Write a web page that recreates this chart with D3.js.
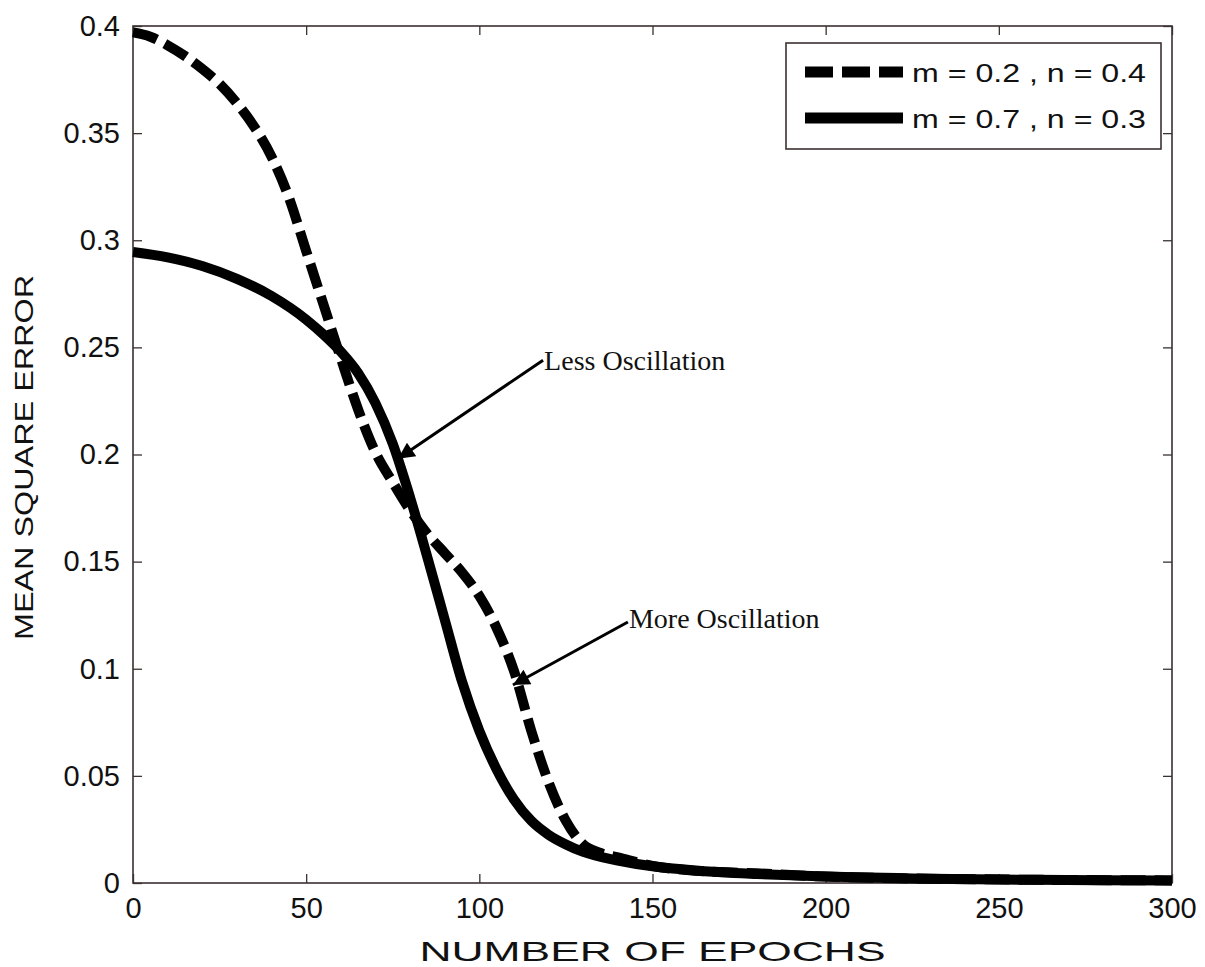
<!DOCTYPE html>
<html>
<head>
<meta charset="utf-8">
<script src="https://cdn.jsdelivr.net/npm/d3@7"></script>
<style>
  html, body { margin: 0; padding: 0; background: #fff; }
  svg { display: block; }
</style>
</head>
<body>
<svg id="chart" width="1205" height="967"></svg>
<script>
// ---- data ----
const epochsA = [0,5,10,15,20,25,30,35,40,45,50,55,60,65,70,75,80,85,90,95,100,105,110,115,120,125,130,135,140,150,160,180,200,230,300];
const mseA    = [0.397,0.395,0.391,0.386,0.380,0.373,0.364,0.353,0.339,0.320,0.295,0.270,0.245,0.221,0.201,0.187,0.174,0.163,0.154,0.145,0.134,0.119,0.099,0.071,0.047,0.029,0.018,0.014,0.012,0.008,0.006,0.0045,0.003,0.002,0.0012];
const epochsB = [0,10,20,30,40,50,55,60,65,70,75,80,85,90,95,100,105,110,115,120,125,130,140,150,160,170,180,200,230,260,300];
const mseB    = [0.2945,0.292,0.288,0.282,0.274,0.263,0.256,0.248,0.238,0.224,0.205,0.180,0.152,0.123,0.094,0.071,0.053,0.039,0.029,0.0225,0.018,0.0145,0.0105,0.0078,0.0062,0.005,0.0042,0.003,0.002,0.0015,0.0012];
const seriesLabels = ["m = 0.2 , n = 0.4", "m = 0.7 , n = 0.3"];
const xTicks = [0,50,100,150,200,250,300];
const yTicks = [0,0.05,0.1,0.15,0.2,0.25,0.3,0.35,0.4];
const yTickLabels = ["0","0.05","0.1","0.15","0.2","0.25","0.3","0.35","0.4"];
const xTitle = "NUMBER OF EPOCHS";
const yTitle = "MEAN SQUARE ERROR";
const notes = [
  {text: "Less Oscillation", tx: 118.7, ty: 0.2394, fx: 118.4, fy: 0.244, ax: 76.5, ay: 0.198},
  {text: "More Oscillation", tx: 143.2, ty: 0.119, fx: 142.9, fy: 0.1218, ax: 109.7, ay: 0.0924}
];

// ---- layout ----
const L = 133, R = 1172, T = 26, B = 883;
const svg = d3.select("#chart");
const x = d3.scaleLinear().domain([0,300]).range([L,R]);
const y = d3.scaleLinear().domain([0,0.4]).range([B,T]);
const frameColor = "#3b3131";
const sans = "Liberation Sans, Arial, sans-serif";

// frame
svg.append("rect").attr("x",L).attr("y",T).attr("width",R-L).attr("height",B-T)
  .attr("fill","#fff").attr("stroke",frameColor).attr("stroke-width",1.6);

// axes (ticks inward)
const tickLen = 9;
const gx = svg.append("g").attr("transform",`translate(0,${B})`)
  .call(d3.axisBottom(x).tickValues(xTicks).tickSizeInner(-tickLen).tickSizeOuter(0).tickPadding(14));
const gxt = svg.append("g").attr("transform",`translate(0,${T})`)
  .call(d3.axisTop(x).tickValues(xTicks).tickSizeInner(-tickLen).tickSizeOuter(0).tickFormat(""));
const gy = svg.append("g").attr("transform",`translate(${L},0)`)
  .call(d3.axisLeft(y).tickValues(yTicks).tickSizeInner(-tickLen).tickSizeOuter(0).tickPadding(13)
    .tickFormat((d,i)=>yTickLabels[i]));
const gyr = svg.append("g").attr("transform",`translate(${R},0)`)
  .call(d3.axisRight(y).tickValues(yTicks).tickSizeInner(-tickLen).tickSizeOuter(0).tickFormat(""));
[gx,gxt,gy,gyr].forEach(g=>{
  g.select(".domain").remove();
  g.selectAll(".tick line").attr("stroke",frameColor).attr("stroke-width",1.3);
  g.selectAll(".tick text").attr("font-family",sans).attr("font-size",29).attr("fill","#111");
});
gx.selectAll(".tick text").attr("dy","0.71em");

// axis titles (stretched like the original)
svg.append("text").attr("x",(L+R)/2).attr("y",961).attr("text-anchor","middle")
  .attr("font-family",sans).attr("font-size",28).attr("fill","#111")
  .attr("textLength",466).attr("lengthAdjust","spacingAndGlyphs").text(xTitle);
svg.append("text").attr("transform",`translate(33,${(T+B)/2+3}) rotate(-90)`).attr("text-anchor","middle")
  .attr("font-family",sans).attr("font-size",25).attr("fill","#111")
  .attr("textLength",365).attr("lengthAdjust","spacingAndGlyphs").text(yTitle);

// lines
const line = d3.line().x(d=>x(d[0])).y(d=>y(d[1])).curve(d3.curveMonotoneX);
const dataA = epochsA.map((e,i)=>[e,mseA[i]]);
const dataB = epochsB.map((e,i)=>[e,mseB[i]]);
svg.append("path").datum(dataB).attr("d",line).attr("fill","none")
  .attr("stroke","#000").attr("stroke-width",10).attr("stroke-linejoin","round");
svg.append("path").datum(dataA).attr("d",line).attr("fill","none")
  .attr("stroke","#000").attr("stroke-width",10).attr("stroke-dasharray","25,9");

// annotations
const defs = svg.append("defs");
defs.append("marker").attr("id","ah").attr("viewBox","0 0 10 10").attr("refX",10).attr("refY",5)
  .attr("markerWidth",6.5).attr("markerHeight",5.5).attr("markerUnits","strokeWidth").attr("orient","auto")
  .append("path").attr("d","M0,0 L10,5 L0,10 Z").attr("fill","#000");
notes.forEach(n=>{
  svg.append("line").attr("x1",x(n.fx)).attr("y1",y(n.fy)).attr("x2",x(n.ax)).attr("y2",y(n.ay))
    .attr("stroke","#000").attr("stroke-width",3).attr("marker-end","url(#ah)");
  svg.append("text").attr("x",x(n.tx)).attr("y",y(n.ty))
    .attr("font-family","Liberation Serif, Times New Roman, serif").attr("font-size",28).attr("fill","#111")
    .text(n.text);
});

// legend
const lg = svg.append("g");
lg.append("rect").attr("x",786).attr("y",43).attr("width",375).attr("height",106)
  .attr("fill","#fff").attr("stroke",frameColor).attr("stroke-width",1.6);
const styles = ["28,9",null];
seriesLabels.forEach((s,i)=>{
  const yy = 72 + i*46;
  const l = lg.append("line").attr("x1",805).attr("x2",903).attr("y1",yy).attr("y2",yy)
    .attr("stroke","#000").attr("stroke-width",11);
  if (styles[i]) l.attr("stroke-dasharray",styles[i]);
  lg.append("text").attr("x",912).attr("y",yy+10).attr("font-family",sans).attr("font-size",26)
    .attr("fill","#111").attr("textLength",234).attr("lengthAdjust","spacingAndGlyphs").text(s);
});
</script>
</body>
</html>
